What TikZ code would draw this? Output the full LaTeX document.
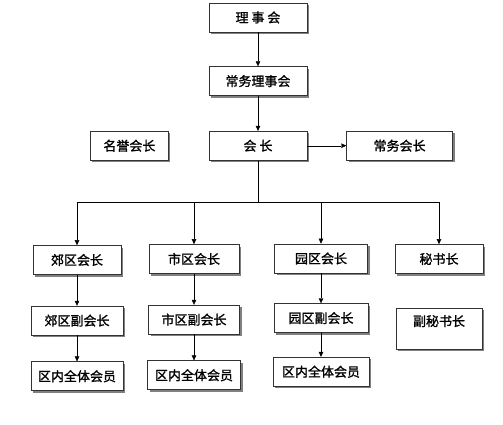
\documentclass[tikz,border=0pt]{standalone}
\usepackage{fontspec}
\setmainfont{Noto Sans CJK SC}
\newfontfamily\unitfont[FakeBold=1.2]{Noto Sans CJK SC}
\usetikzlibrary{arrows.meta,positioning,shadows}
\tikzset{
  unit/.style={draw=black!80, fill=white, line width=0.6pt, minimum height=29pt, inner sep=2pt,
    font=\unitfont\fontsize{13}{15}\selectfont,
    drop shadow={shadow xshift=2pt, shadow yshift=-2pt, fill=black!50, opacity=1}},
  >={Triangle[length=5pt,width=4.5pt]}, line width=0.6pt}

\begin{document}
\begin{tikzpicture}
        \useasboundingbox (0,0) rectangle (503pt,-425pt);
        \node[unit, minimum width=98pt] (lsh) at (258pt,-17.5pt) {理 事 会};
        \node[unit, minimum width=98pt] (cwlsh) [below=34pt of lsh] {常务理事会};
        \node[unit, minimum width=98pt] (hz) [below=35pt of cwlsh] {会 长};
        \node[unit, minimum width=78pt] (myhz) [left=40pt of hz] {名誉会长};
        \node[unit, minimum width=106pt] (cwhz) [right=39pt of hz] {常务会长};

        % district columns
        \node[unit, minimum width=88pt] (jqhz) at (77pt,-260pt) {郊区会长};
        \node[unit, minimum width=92pt] (jqfhz) [below=31pt of jqhz] {郊区副会长};
        \node[unit, minimum width=92pt] (jqhy) [below=26pt of jqfhz] {区内全体会员};

        \node[unit, minimum width=90pt] (sqhz) at (194pt,-259pt) {市区会长};
        \node[unit, minimum width=91pt] (sqfhz) [below=31pt of sqhz] {市区副会长};
        \node[unit, minimum width=93pt] (sqhy) [below=26pt of sqfhz] {区内全体会员};

        \node[unit, minimum width=93pt] (yqhz) at (321pt,-258.5pt) {园区会长};
        \node[unit, minimum width=94pt] (yqfhz) [below=30pt of yqhz] {园区副会长};
        \node[unit, minimum width=96pt] (yqhy) [below=24pt of yqfhz] {区内全体会员};

        \node[unit, minimum width=88pt] (msz) at (439pt,-259pt) {秘书长};
        \node[unit, minimum width=86pt, minimum height=41pt, text depth=16pt] (fmsz) [below=34pt of msz] {副秘书长};

        \path[->] (lsh) edge (cwlsh);
        \path[->] (cwlsh) edge (hz);
        \path[->] (hz) edge (cwhz);

        \coordinate (bus) at ([yshift=-42pt]hz.south);
        \draw (hz.south) -- (bus);
        \draw[->] (bus) -| (jqhz.north);
        \draw[->] (bus) -| (sqhz.north);
        \draw[->] (bus) -| (yqhz.north);
        \draw[->] (bus) -| (msz.north);

        \path[->] (jqhz) edge (jqfhz);
        \path[->] (jqfhz) edge (jqhy);
        \path[->] (sqhz) edge (sqfhz);
        \path[->] (sqfhz) edge (sqhy);
        \path[->] (yqhz) edge (yqfhz);
        \path[->] (yqfhz) edge (yqhy);
    \end{tikzpicture}
\end{document}
